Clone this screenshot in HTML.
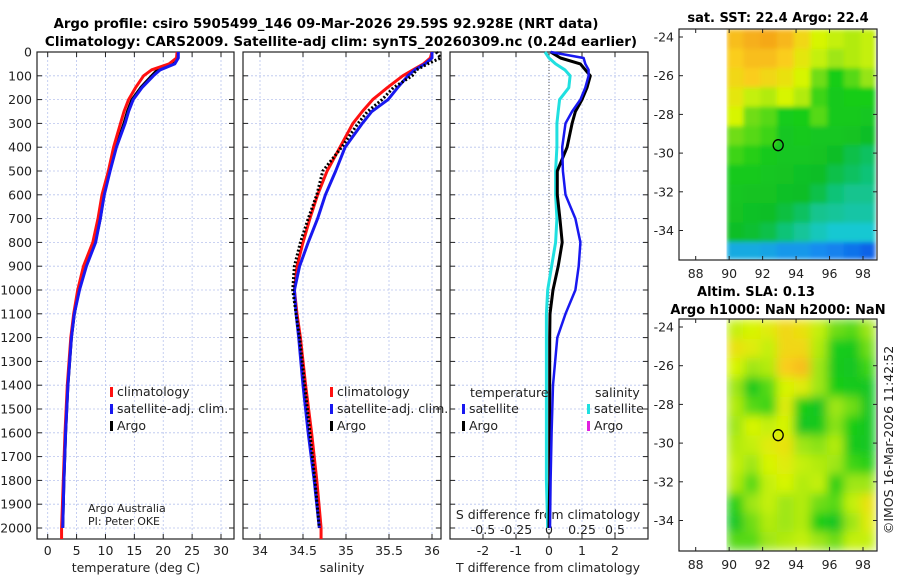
<!DOCTYPE html>
<html><head><meta charset="utf-8">
<style>
html,body{margin:0;padding:0;background:#fff;}
svg{display:block;font-family:"DejaVu Sans","Liberation Sans",sans-serif;}
</style></head>
<body>
<svg id="fig" width="900" height="580" viewBox="0 0 900 580" xmlns="http://www.w3.org/2000/svg">
<defs>
<filter id="blurA" x="0" y="0" width="1" height="1"><feGaussianBlur stdDeviation="2.5" edgeMode="duplicate"/></filter>
<filter id="blurB" x="0" y="0" width="1" height="1"><feGaussianBlur stdDeviation="5" edgeMode="duplicate"/></filter>
</defs>
<text x="326" y="28" text-anchor="middle" font-size="13.3" font-weight="bold">Argo profile: csiro 5905499_146 09-Mar-2026 29.59S 92.928E (NRT data)</text>
<text x="341" y="46" text-anchor="middle" font-size="13.5" font-weight="bold">Climatology: CARS2009. Satellite-adj clim: synTS_20260309.nc (0.24d earlier)</text>
<text x="778" y="22" text-anchor="middle" font-size="13" font-weight="bold">sat. SST: 22.4 Argo: 22.4</text>
<text x="756" y="296" text-anchor="middle" font-size="13" font-weight="bold">Altim. SLA: 0.13</text>
<text x="778" y="314" text-anchor="middle" font-size="13" font-weight="bold">Argo h1000: NaN h2000: NaN</text>
<text transform="translate(893,440) rotate(-90)" text-anchor="middle" font-size="12.5" fill="#222">©IMOS 16-Mar-2026 11:42:52</text>
<g id="layer"></g>
</svg>
<script>
// ---------- data ----------
const depths = [0,25,50,75,100,150,200,250,300,400,500,600,700,800,900,1000,1100,1200,1400,1600,1800,2000];
const tempClim = [22.4,22.3,21.0,18.0,16.6,15.2,14.0,13.2,12.6,11.4,10.5,9.4,8.7,7.8,6.2,5.2,4.5,4.0,3.4,3.0,2.7,2.4];
const tempSat  = [22.6,22.6,22.0,19.5,18.3,16.3,14.8,14.0,13.4,11.9,10.8,9.8,9.1,8.3,6.7,5.5,4.6,4.1,3.5,3.1,2.8,2.6];
const tempArgo = [22.5,22.5,21.6,19.0,18.0,16.1,14.6,13.8,13.2,11.8,10.6,9.7,9.1,8.2,6.6,5.4,4.6,4.1,3.5,3.1,2.8,2.6];
const salClim = [36.0,35.98,35.9,35.78,35.66,35.48,35.31,35.19,35.08,34.93,34.78,34.67,34.58,34.50,34.43,34.40,34.43,34.47,34.53,34.60,34.66,34.71];
const salSat  = [36.0,36.0,35.92,35.8,35.72,35.6,35.49,35.3,35.19,34.99,34.88,34.76,34.67,34.56,34.46,34.40,34.42,34.45,34.50,34.56,34.63,34.69];
const salArgo = [36.05,36.1,35.95,35.82,35.77,35.55,35.42,35.25,35.14,34.95,34.73,34.66,34.56,34.47,34.40,34.38,34.42,34.46,34.52,34.58,34.64,34.69];
const dTsat  = [0.05,1.05,1.1,1.2,1.2,1.1,0.95,0.7,0.5,0.4,0.42,0.5,0.8,0.95,0.9,0.8,0.5,0.25,0.12,0.08,0.05,0.03];
const dTargo = [0.05,0.35,0.95,1.1,1.25,1.15,1.0,0.8,0.7,0.55,0.25,0.25,0.33,0.4,0.28,0.12,0.03,0.02,0.02,0.02,0.02,0.0];
const dSsat  = [-0.03,0.0,0.05,0.12,0.16,0.15,0.08,0.07,0.06,0.06,0.05,0.05,0.06,0.05,0.02,-0.01,-0.02,-0.02,-0.02,-0.02,-0.02,-0.01];
const depthTicks = [0,100,200,300,400,500,600,700,800,900,1000,1100,1200,1300,1400,1500,1600,1700,1800,1900,2000];
const tempTicks = [0,5,10,15,20,25,30];
const salTicks = [34,34.5,35,35.5,36];
const dTTicks = [-2,-1,0,1,2];
const dSTicks = [-0.5,-0.25,0,0.25,0.5];
const dSTickLabels = ["-0.5","-0.25","0","0.25","0.5"];
const lonTicks = [88,90,92,94,96,98];
const latTicks = [-24,-26,-28,-30,-32,-34];
const floatLon = 92.93, floatLat = -29.59;
// 1-degree cells, lon 90..99 (cols), lat -23.6 downward (rows)
const sstGrid = [
[0.82,0.84,0.85,0.83,0.78,0.72,0.70,0.68,0.70],
[0.80,0.82,0.82,0.80,0.75,0.70,0.66,0.68,0.70],
[0.78,0.80,0.78,0.76,0.72,0.62,0.55,0.60,0.65],
[0.75,0.70,0.68,0.72,0.68,0.58,0.52,0.55,0.55],
[0.72,0.62,0.60,0.54,0.55,0.60,0.52,0.52,0.50],
[0.62,0.60,0.58,0.50,0.52,0.50,0.50,0.48,0.45],
[0.58,0.56,0.52,0.50,0.50,0.48,0.45,0.42,0.40],
[0.52,0.52,0.50,0.48,0.47,0.45,0.42,0.40,0.38],
[0.50,0.48,0.48,0.46,0.45,0.42,0.38,0.36,0.36],
[0.48,0.47,0.45,0.43,0.40,0.36,0.35,0.34,0.34],
[0.45,0.44,0.42,0.38,0.35,0.32,0.30,0.30,0.30],
[0.25,0.25,0.24,0.22,0.22,0.20,0.18,0.15,0.12]];
const slaGrid = [
[0.70,0.72,0.74,0.78,0.76,0.70,0.62,0.60,0.66],
[0.76,0.74,0.70,0.78,0.78,0.68,0.54,0.52,0.62],
[0.72,0.66,0.68,0.80,0.82,0.66,0.52,0.50,0.58],
[0.66,0.52,0.60,0.72,0.74,0.66,0.55,0.52,0.50],
[0.68,0.60,0.58,0.74,0.55,0.50,0.66,0.62,0.50],
[0.66,0.72,0.70,0.72,0.50,0.52,0.64,0.55,0.50],
[0.68,0.70,0.74,0.76,0.66,0.64,0.68,0.52,0.50],
[0.70,0.66,0.72,0.74,0.70,0.68,0.66,0.58,0.56],
[0.68,0.60,0.70,0.72,0.68,0.70,0.56,0.66,0.66],
[0.56,0.66,0.70,0.66,0.68,0.62,0.60,0.70,0.76],
[0.50,0.62,0.68,0.66,0.68,0.55,0.50,0.66,0.74],
[0.60,0.60,0.66,0.68,0.70,0.66,0.62,0.70,0.70]];

// ---------- helpers ----------
const NS="http://www.w3.org/2000/svg";
const layer=document.getElementById('layer');
function mk(tag,attrs,parent){const e=document.createElementNS(NS,tag);for(const k in attrs)e.setAttribute(k,attrs[k]);(parent||layer).appendChild(e);return e;}
const PT=52, PB=539;
const yD = d => PT + d*0.238;
function lin(d0,d1,p0,p1){return v=>p0+(v-d0)*(p1-p0)/(d1-d0);}
const panels=[
 {name:'temperature-panel',x0:37,x1:234,sx:lin(0,30,47.7,221)},
 {name:'salinity-panel',x0:243,x1:441,sx:lin(34,36,260,432)},
 {name:'difference-panel',x0:450,x1:648,sx:lin(0,2,549,615)}];
function frame(p,ticks){
  const g=mk('g',{});
  
  
  depthTicks.forEach(d=>{const y=yD(d);
    mk('line',{x1:p.x0,x2:p.x1,y1:y,y2:y,stroke:'#b8c4ee','stroke-width':0.8,'stroke-dasharray':'2,2'},g);
    mk('line',{x1:p.x0,x2:p.x0+5,y1:y,y2:y,stroke:'#222'},g);
    mk('line',{x1:p.x1,x2:p.x1-5,y1:y,y2:y,stroke:'#222'},g);});
  ticks.forEach(v=>{const x=p.sx(v);
    mk('line',{x1:x,x2:x,y1:PT,y2:PB,stroke:'#b8c4ee','stroke-width':0.8,'stroke-dasharray':'2,2'},g);
    mk('line',{x1:x,x2:x,y1:PB,y2:PB-5,stroke:'#222'},g);
    mk('line',{x1:x,x2:x,y1:PT,y2:PT+5,stroke:'#222'},g);});
  mk('rect',{x:p.x0,y:PT,width:p.x1-p.x0,height:PB-PT,fill:'none',stroke:'#222','stroke-width':1.2},g);
  return g;
}
function line(g,xs,sx,color,w,dash,name){
  const pts=depths.map((d,i)=>sx(xs[i]).toFixed(1)+','+yD(d).toFixed(1)).join(' ');
  const a={points:pts,fill:'none',stroke:color,'stroke-width':w,'stroke-linejoin':'round'};
  if(dash)a['stroke-dasharray']=dash;
  const e=mk('polyline',a,g);
  
  
}
function txt(g,x,y,s,opts){const a=Object.assign({x:x,y:y,'font-size':12.5,fill:'#222'},opts||{});const e=mk('text',a,g);e.textContent=s;return e;}
function legend(g,x,y,color,label,name){
  mk('rect',{x:x,y:y-9,width:3,height:10,fill:color},g);
  const t=txt(g,x+7,y,label,{'font-size':12.5});
  
  
}

depthTicks.forEach(d=>{const t=txt(layer,32,yD(d)+4.5,String(d),{'text-anchor':'end'});
  
  });

// temperature panel
let g=frame(panels[0],tempTicks);
tempTicks.forEach(v=>txt(g,panels[0].sx(v),555,String(v),{'text-anchor':'middle'}));
txt(g,136,572,'temperature (deg C)',{'text-anchor':'middle'});
line(g,tempArgo,panels[0].sx,'#000',3,'',"temp-argo-line");
line(g,tempClim,panels[0].sx,'#ff1010',3,'',"temp-climatology-line");
line(g,tempSat,panels[0].sx,'#1818f0',3,'',"temp-satellite-line");
mk('line',{x1:panels[0].sx(2.4),x2:panels[0].sx(2.4),y1:yD(2000),y2:PB,stroke:'#ff1010','stroke-width':3},g);
legend(g,110,396,'#ff1010','climatology','legend-climatology');
legend(g,110,413,'#1818f0','satellite-adj. clim.','legend-satellite');
legend(g,110,430,'#000','Argo','legend-argo');
txt(g,88,512,'Argo Australia',{'font-size':11});
txt(g,88,525,'PI: Peter OKE',{'font-size':11});

// salinity panel
g=frame(panels[1],salTicks);
salTicks.forEach(v=>txt(g,panels[1].sx(v),555,String(v),{'text-anchor':'middle'}));
txt(g,342,572,'salinity',{'text-anchor':'middle'});
line(g,salClim,panels[1].sx,'#ff1010',3,'',"sal-climatology-line");
line(g,salSat,panels[1].sx,'#1818f0',3,'',"sal-satellite-line");
line(g,salArgo,panels[1].sx,'#000',3,'2,2',"sal-argo-line");
mk('line',{x1:panels[1].sx(34.71),x2:panels[1].sx(34.71),y1:yD(2000),y2:PB,stroke:'#ff1010','stroke-width':3},g);
legend(g,330,396,'#ff1010','climatology','legend-climatology-sal');
legend(g,330,413,'#1818f0','satellite-adj. clim.','legend-satellite-sal');
legend(g,330,430,'#000','Argo','legend-argo-sal');

// difference panel
const p3=panels[2];
g=frame(p3,dTTicks);
mk('line',{x1:p3.sx(0),x2:p3.sx(0),y1:PT,y2:PB,stroke:'#555','stroke-width':1,'stroke-dasharray':'1,2'},g);
dTTicks.forEach(v=>txt(g,p3.sx(v),555,String(v),{'text-anchor':'middle'}));
txt(g,548,572,'T difference from climatology',{'text-anchor':'middle'});
txt(g,548,519,'S difference from climatology',{'text-anchor':'middle'});
const sxS=v=>p3.sx(v*4);
dSTicks.forEach((v,i)=>txt(g,sxS(v),534,dSTickLabels[i],{'text-anchor':'middle'}));
line(g,dSsat.map(v=>v*4),p3.sx,'#20e0e0',3,'',"sdiff-satellite-line");
line(g,dTargo,p3.sx,'#000',3,'',"tdiff-argo-line");
line(g,dTsat,p3.sx,'#1818f0',2.5,'',"tdiff-satellite-line");
txt(g,470,397,'temperature');
txt(g,595,397,'salinity');
legend(g,462,413,'#1818f0','satellite','legend-t-satellite');
legend(g,462,430,'#000','Argo','legend-t-argo');
legend(g,587,413,'#20e0e0','satellite','legend-s-satellite');
legend(g,587,430,'#e020e0','Argo','legend-s-argo');

// ---------- maps ----------
function cmap(v){
  const st=[[0,[0,40,220]],[0.2,[20,140,240]],[0.3,[20,200,210]],[0.45,[15,190,40]],[0.55,[25,205,25]],[0.65,[150,228,25]],[0.72,[215,245,0]],[0.8,[250,205,30]],[0.9,[240,130,20]],[1,[220,60,10]]];
  for(let i=1;i<st.length;i++){if(v<=st[i][0]){const a=st[i-1],b=st[i],t=(v-a[0])/(b[0]-a[0]);
    return 'rgb('+a[1].map((c,k)=>Math.round(c+(b[1][k]-c)*t)).join(',')+')';}}
  return 'rgb(220,60,10)';
}
function drawMap(name,grid,top,bottom,lat24y,filt){
  const gm=mk('g',{});
  
  
  const sx=lin(88,98,695.7,863), sy=lin(-24,-34,lat24y,lat24y+193.5);
  const latTop=-23.6;
  const cells=mk('g',{filter:'url(#'+filt+')'},gm);
  grid.forEach((row,r)=>row.forEach((v,c)=>{
    const x0=sx(89.85+c), x1=Math.min(sx(90.85+c),875);
    const y0=Math.max(sy(latTop-r),top), y1=Math.min(sy(latTop-r-1),bottom-1);
    if(y1>y0){const cell=mk('rect',{x:x0.toFixed(1),y:y0.toFixed(1),width:(x1-x0+0.6).toFixed(1),height:(y1-y0+0.6).toFixed(1),fill:cmap(v)},cells);
    
    }
  }));
  mk('rect',{x:679,y:top,width:198,height:bottom-top,fill:'none',stroke:'#222','stroke-width':1.2},gm);
  lonTicks.forEach(v=>{const x=sx(v);
    mk('line',{x1:x,x2:x,y1:bottom,y2:bottom-4,stroke:'#222'},gm);
    mk('line',{x1:x,x2:x,y1:top,y2:top+4,stroke:'#222'},gm);
    txt(gm,x,bottom+18,String(v),{'text-anchor':'middle'});});
  latTicks.forEach(v=>{const y=sy(v);
    mk('line',{x1:679,x2:683,y1:y,y2:y,stroke:'#222'},gm);
    mk('line',{x1:877,x2:873,y1:y,y2:y,stroke:'#222'},gm);
    txt(gm,674,y+4.5,String(v),{'text-anchor':'end'});});
  const c=mk('ellipse',{cx:sx(floatLon),cy:sy(floatLat),rx:5,ry:5.5,fill:'none',stroke:'#000','stroke-width':1.3},gm);
  
  
}
drawMap('sst-map',sstGrid,29,260,37,'blurA');
drawMap('sla-map',slaGrid,319,551,327,'blurB');
</script>
</body></html>
